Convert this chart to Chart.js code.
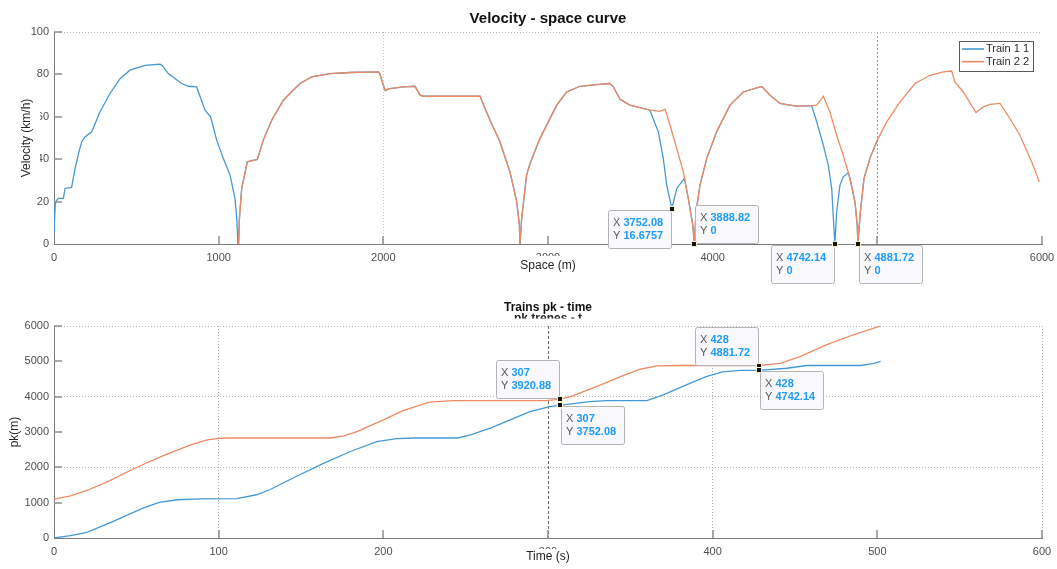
<!DOCTYPE html>
<html>
<head>
<meta charset="utf-8">
<title>Velocity - space curve</title>
<script src="https://cdn.jsdelivr.net/npm/chart.js@4.4.1/dist/chart.umd.min.js"></script>
<style>
  html, body { margin: 0; padding: 0; background: #fff; }
  #wrap { position: relative; width: 1057px; height: 569px; overflow: hidden; }
  canvas { position: absolute; left: 0; }
  #velChart { top: 0; }
  #pkChart { top: 290px; }
</style>
</head>
<body>
<div id="wrap">
  <canvas id="velChart" width="1057" height="290"></canvas>
  <canvas id="pkChart" width="1057" height="279"></canvas>
</div>
<script>
// speed along the line: space (m) / speed (km/h)
const train1Space = [0, 8, 15, 26, 57, 67, 107, 128, 150, 168, 188, 229, 279, 340, 401, 461, 553, 644, 660, 694, 775, 816, 866, 917, 951, 988, 1028, 1069, 1099, 1110, 1117,
  1121, 1126, 1140, 1174, 1235, 1271, 1322, 1393, 1433, 1494, 1565, 1676, 1798, 1970, 1980, 2010, 2040, 2121, 2192, 2223, 2243, 2587, 2648, 2708, 2769, 2810, 2826, 2830,
  2840, 2870, 2891, 2947, 2971, 3053, 3113, 3194, 3296, 3376, 3397, 3437, 3498, 3619,
  3670, 3700, 3721, 3752.08, 3782, 3828, 3852, 3879, 3888.82,
  3899, 3923, 3964, 4024, 4105, 4186, 4287, 4301, 4348, 4409, 4469, 4510, 4601,
  4632, 4672, 4702, 4723, 4733, 4742.14, 4753, 4773, 4793, 4824, 4834, 4864, 4878, 4881.72, 4897, 4919, 4955, 5000];
const train1Speed = [5.8, 19, 20.5, 21.5, 21.5, 26.2, 26.7, 35.6, 43, 48.2, 50.5, 52.9, 62.3, 71, 78, 82, 84.3, 84.8, 84, 80.4, 75.7, 74.4, 74.1, 63.1, 60, 49, 40.4, 32.5, 21.5, 12, 0,
  0, 12, 26.2, 38.8, 39.9, 49, 58.4, 67.8, 71, 75.7, 78.8, 80.4, 80.9, 81.2, 79.9, 72.5, 73.3, 74.1, 74.4, 70.2, 69.7, 69.7, 58.4, 48.2, 34, 20, 9, 0,
  12, 32.5, 38, 49, 52.9, 65.5, 71.7, 74.4, 75.2, 75.7, 74.1, 68.3, 65.5, 63.1,
  52.9, 40.4, 27.8, 16.6757, 26.2, 31, 21.5, 9, 0,
  15.2, 27.8, 40.4, 52.9, 65.5, 71.7, 74.1, 74.1, 70.2, 66.3, 65.5, 65, 65.3,
  57.6, 46.6, 37.2, 26.2, 12.1, 0, 15.2, 27.8, 31.7, 33.6, 30.9, 19.9, 9, 0, 15.2, 30.9, 40.4, 49];

const train2Space = [1121, 1126, 1140, 1174, 1235, 1271, 1322, 1393, 1433, 1494, 1565, 1676, 1798, 1970, 1980, 2010, 2040, 2121, 2192, 2223, 2243, 2587, 2648, 2708, 2769, 2810, 2826, 2830,
  2840, 2870, 2891, 2947, 2971, 3053, 3113, 3194, 3296, 3376, 3397, 3437, 3498, 3619, 3680, 3711, 3741, 3782, 3822, 3852, 3879, 3888.82,
  3899, 3923, 3964, 4024, 4105, 4186, 4287, 4301, 4348, 4409, 4469, 4510, 4601, 4632, 4672, 4712, 4753, 4793, 4834, 4864, 4878, 4881.72,
  4897, 4919, 4955, 5000, 5057, 5138, 5229, 5320, 5401, 5451, 5471, 5522, 5599, 5643, 5684, 5745, 5805, 5866, 5937, 5984];
const train2Speed = [0, 12, 26.2, 38.8, 39.9, 49, 58.4, 67.8, 71, 75.7, 78.8, 80.4, 80.9, 81.2, 79.9, 72.5, 73.3, 74.1, 74.4, 70.2, 69.7, 69.7, 58.4, 48.2, 34, 20, 9, 0,
  12, 32.5, 38, 49, 52.9, 65.5, 71.7, 74.4, 75.2, 75.7, 74.1, 68.3, 65.5, 63.1, 62.6, 63.6, 56, 45, 34, 21.5, 9, 0,
  15.2, 27.8, 40.4, 52.9, 65.5, 71.7, 74.1, 74.1, 70.2, 66.3, 65.5, 65, 65.3, 65.5, 69.7, 62.3, 51.3, 41.9, 30.9, 19.9, 9, 0,
  15.2, 30.9, 40.4, 49, 57.6, 67, 75.7, 79.6, 81.2, 81.6, 76.5, 71.7, 62, 64.7, 65.9, 66.3, 59.2, 51.3, 38.8, 29.3];

// position over time: time (s) / pk (m)
const train1Time = [0, 10, 20, 36, 54, 64, 75, 89, 111, 123, 131, 147, 164, 180, 196, 208, 220, 245, 253, 265, 277, 289, 301, 307, 325, 336, 360, 370, 384, 396, 406, 417, 428, 445, 457, 490, 498, 502];
const train1Pk = [0, 65, 160, 470, 848, 1006, 1082, 1110, 1117, 1224, 1365, 1741, 2119, 2448, 2730, 2815, 2830, 2830, 2919, 3109, 3343, 3578, 3719, 3752.08, 3860, 3888.82, 3888.82, 4050, 4332, 4567, 4700, 4742.14, 4742.14, 4804, 4881.72, 4881.72, 4945, 5002];
const train2Time = [0, 10, 20, 32, 50, 66, 83, 93, 99, 105, 168, 176, 184, 200, 212, 228, 242, 298, 307, 315, 332, 344, 356, 366, 380, 428, 441, 453, 469, 485, 502];
const train2Pk = [1100, 1195, 1345, 1582, 1996, 2326, 2637, 2778, 2815, 2830, 2830, 2891, 3013, 3343, 3606, 3843, 3888.82, 3888.82, 3920.88, 4021, 4332, 4567, 4776, 4869, 4881.72, 4881.72, 4945, 5132, 5463, 5745, 6000];

const seriesNames = ['Train 1 1', 'Train 2 2'];
const seriesColors = ['#4598d5', '#ee8a63'];

const velTicksX = [0, 1000, 2000, 3000, 4000, 5000, 6000];
const velTicksY = [0, 20, 40, 60, 80, 100];
const pkTicksX = [0, 100, 200, 300, 400, 500, 600];
const pkTicksY = [0, 1000, 2000, 3000, 4000, 5000, 6000];

// only some grid lines are switched on
const velGridX = [2000, 5000];
const velGridY = [100];
const pkGridX = [100, 300, 400, 600];
const pkGridY = [2000, 4000, 6000];

// data tips: [series, x value, corner of the box sitting on the point]
const velTips = [[0, 3752.08, 'tr'], [1, 3888.82, 'bl'], [0, 4742.14, 'tr'], [1, 4881.72, 'tl']];
const pkTips = [[1, 307, 'br'], [0, 307, 'tl'], [1, 428, 'br'], [0, 428, 'tl']];

const FONT = "'Liberation Sans', Arial, Helvetica, sans-serif";
Chart.defaults.font.family = FONT;

function toPoints(xs, ys) {
  return xs.map((x, i) => ({ x: x, y: ys[i] }));
}

function fmt(v) {
  return String(Number(v.toPrecision(6)));
}

function fixedTicks(list) {
  return s => { s.ticks = list.map(v => ({ value: v })); };
}

// MATLAB-ish decorations: inward ticks, titles, axis labels
const axesDecor = {
  id: 'axesDecor',
  afterDraw(chart, args, o) {
    const ctx = chart.ctx;
    const a = chart.chartArea;
    const xs = chart.scales.x, ys = chart.scales.y;
    ctx.save();

    ctx.strokeStyle = '#8f8f8f';
    ctx.lineWidth = 1.5;
    ctx.beginPath();
    xs.ticks.forEach(t => {
      if (t.value === xs.min) return;
      const p = Math.round(xs.getPixelForValue(t.value));
      ctx.moveTo(p, a.bottom);
      ctx.lineTo(p, a.bottom - 8);
    });
    ys.ticks.forEach(t => {
      if (t.value === ys.min) return;
      const p = Math.round(ys.getPixelForValue(t.value));
      ctx.moveTo(a.left, p);
      ctx.lineTo(a.left + 8, p);
    });
    ctx.stroke();

    const cx = (a.left + a.right) / 2;

    // leftover text under the title
    if (o.ghost) {
      ctx.save();
      ctx.beginPath();
      ctx.rect(0, 0, chart.width, o.ghost.clip);
      ctx.clip();
      ctx.fillStyle = '#262626';
      ctx.font = 'bold 12px ' + FONT;
      ctx.textAlign = 'center';
      ctx.textBaseline = 'alphabetic';
      ctx.fillText(o.ghost.text, cx, o.ghost.y);
      ctx.restore();
    }

    ctx.fillStyle = '#111';
    ctx.font = 'bold ' + o.titleSize + 'px ' + FONT;
    ctx.textAlign = 'center';
    ctx.textBaseline = 'middle';
    ctx.fillText(o.title, cx, o.titleY);

    // x label sits on a white patch
    ctx.font = '12px ' + FONT;
    const w = ctx.measureText(o.xLabel).width;
    ctx.fillStyle = '#fff';
    ctx.fillRect(cx - w / 2 - 4, o.xMaskTop, w + 8, o.xLabelY + 9 - o.xMaskTop);
    ctx.fillStyle = '#262626';
    ctx.fillText(o.xLabel, cx, o.xLabelY);

    const cy = (a.top + a.bottom) / 2;
    if (o.yMask) {
      ctx.fillStyle = '#fff';
      ctx.fillRect(o.yMask[0], cy - o.yMask[2] / 2, o.yMask[1] - o.yMask[0], o.yMask[2]);
    }
    ctx.translate(o.yLabelX, cy);
    ctx.rotate(-Math.PI / 2);
    ctx.fillStyle = '#262626';
    ctx.fillText(o.yLabel, 0, 0);
    ctx.restore();
  }
};

// boxed legend in the upper right corner
const boxLegend = {
  id: 'boxLegend',
  afterDraw(chart, args, o) {
    if (!o.show) return;
    const ctx = chart.ctx;
    const a = chart.chartArea;
    const sets = chart.data.datasets;
    ctx.save();
    ctx.font = '11px ' + FONT;
    const textW = Math.max(...sets.map(d => ctx.measureText(d.label).width));
    const w = 3 + 22 + 2 + textW + 4;
    const h = 30;
    const x = a.right - 9 - w, y = a.top + 9;
    ctx.fillStyle = '#fff';
    ctx.fillRect(x, y, w, h);
    ctx.strokeStyle = '#5a5a5a';
    ctx.lineWidth = 1;
    ctx.strokeRect(Math.round(x) + 0.5, Math.round(y) + 0.5, Math.round(w), h);
    sets.forEach((d, i) => {
      const ly = y + 8 + i * 12.7;
      ctx.strokeStyle = d.borderColor;
      ctx.lineWidth = 1.6;
      ctx.beginPath();
      ctx.moveTo(x + 3, ly);
      ctx.lineTo(x + 25, ly);
      ctx.stroke();
      ctx.fillStyle = '#2a2a2a';
      ctx.textBaseline = 'middle';
      ctx.fillText(d.label, x + 27, ly);
    });
    ctx.restore();
  }
};

// data tips with X / Y readouts
const dataTips = {
  id: 'dataTips',
  afterDraw(chart, args, o) {
    const ctx = chart.ctx;
    const xs = chart.scales.x, ys = chart.scales.y;
    ctx.save();
    o.tips.forEach(tip => {
      const pt = chart.data.datasets[tip[0]].data.find(p => p.x === tip[1]);
      const px = Math.round(xs.getPixelForValue(pt.x));
      const py = Math.round(ys.getPixelForValue(pt.y));
      const rows = [['X', fmt(pt.x)], ['Y', fmt(pt.y)]];
      ctx.font = '11px ' + FONT;
      const keyW = ctx.measureText('X ').width;
      ctx.font = 'bold 11px ' + FONT;
      const valW = Math.max(...rows.map(r => ctx.measureText(r[1]).width));
      const w = Math.round(5 + keyW + valW + 8);
      const h = 38;
      const bx = tip[2][1] === 'l' ? px + 1 : px - 1 - w;
      const by = tip[2][0] === 't' ? py + 1 : py - 1 - h;

      ctx.beginPath();
      ctx.roundRect(bx + 0.5, by + 0.5, w, h, 2);
      ctx.fillStyle = '#f9f9fd';
      ctx.fill();
      ctx.strokeStyle = '#b4b4b4';
      ctx.lineWidth = 1;
      ctx.stroke();

      ctx.textBaseline = 'middle';
      ctx.textAlign = 'left';
      rows.forEach((r, i) => {
        const ty = by + 12.5 + i * 13.4;
        ctx.font = '11px ' + FONT;
        ctx.fillStyle = '#5a5a5a';
        ctx.fillText(r[0], bx + 5, ty);
        ctx.font = 'bold 11px ' + FONT;
        ctx.fillStyle = '#1d9bf5';
        ctx.fillText(r[1], bx + 5 + keyW, ty);
      });

      ctx.fillStyle = '#f2f0c8';
      ctx.fillRect(px - 3, py - 3, 6, 6);
      ctx.fillStyle = '#111';
      ctx.fillRect(px - 2, py - 2, 4, 4);
    });
    ctx.restore();
  }
};

function lineSet(i, points) {
  return {
    label: seriesNames[i],
    data: points,
    borderColor: seriesColors[i],
    borderWidth: 1.3,
    pointRadius: 0,
    tension: 0,
    fill: false,
    order: 1 - i
  };
}

const plainTick = v => String(v);

function axisX(min, max, ticks, grid, xHeight, gridStyle) {
  return {
    type: 'linear', min: min, max: max,
    afterBuildTicks: fixedTicks(ticks),
    afterFit: s => { s.height = xHeight; s.paddingLeft = 0; s.paddingRight = 0; },
    ticks: { color: '#4f4f4f', font: { size: 11 }, padding: 7, maxRotation: 0, autoSkip: false, callback: plainTick },
    grid: {
      drawTicks: false,
      color: c => (c.tick && grid.includes(c.tick.value)) ? gridStyle(c.tick.value).color : 'transparent'
    },
    border: {
      color: '#7b7b7b', width: 1,
      dash: c => c.tick ? gridStyle(c.tick.value).dash : []
    }
  };
}

function axisY(min, max, ticks, grid) {
  return {
    type: 'linear', min: min, max: max,
    afterBuildTicks: fixedTicks(ticks),
    afterFit: s => { s.width = 54; s.paddingTop = 0; s.paddingBottom = 0; },
    ticks: { color: '#4f4f4f', font: { size: 11 }, padding: 5, callback: plainTick },
    grid: {
      drawTicks: false,
      color: c => (c.tick && grid.includes(c.tick.value)) ? '#b3b3b3' : 'transparent'
    },
    border: { color: '#7b7b7b', width: 1, dash: [1, 2] }
  };
}

new Chart(document.getElementById('velChart'), {
  type: 'line',
  data: {
    datasets: [
      lineSet(0, toPoints(train1Space, train1Speed)),
      lineSet(1, toPoints(train2Space, train2Speed))
    ]
  },
  options: {
    responsive: false,
    devicePixelRatio: 1,
    animation: false,
    events: [],
    layout: { padding: { top: 32, right: 15, left: 0, bottom: 0 } },
    scales: {
      x: axisX(0, 6000, velTicksX, velGridX, 46, v => v === 5000 ? { color: '#9a9a9a', dash: [2, 2] } : { color: '#c4c4c4', dash: [1, 2] }),
      y: axisY(0, 100, velTicksY, velGridY)
    },
    plugins: {
      legend: { display: false },
      tooltip: { enabled: false },
      axesDecor: {
        title: 'Velocity - space curve', titleSize: 15, titleY: 19,
        xLabel: 'Space (m)', xLabelY: 266, xMaskTop: 256,
        yLabel: 'Velocity (km/h)', yLabelX: 27, yMask: [19, 40, 84]
      },
      boxLegend: { show: true },
      dataTips: { tips: velTips }
    }
  },
  plugins: [axesDecor, boxLegend, dataTips]
});

new Chart(document.getElementById('pkChart'), {
  type: 'line',
  data: {
    datasets: [
      lineSet(0, toPoints(train1Time, train1Pk)),
      lineSet(1, toPoints(train2Time, train2Pk))
    ]
  },
  options: {
    responsive: false,
    devicePixelRatio: 1,
    animation: false,
    events: [],
    layout: { padding: { top: 36, right: 15, left: 0, bottom: 0 } },
    scales: {
      x: axisX(0, 600, pkTicksX, pkGridX, 31, v => v === 300 ? { color: '#6e6e6e', dash: [3, 2] } : { color: '#b3b3b3', dash: [1, 2] }),
      y: axisY(0, 6000, pkTicksY, pkGridY)
    },
    plugins: {
      legend: { display: false },
      tooltip: { enabled: false },
      axesDecor: {
        title: 'Trains pk - time', titleSize: 12, titleY: 18,
        ghost: { text: 'pk trenes - t', y: 32, clip: 28.5 },
        xLabel: 'Time (s)', xLabelY: 267, xMaskTop: 259,
        yLabel: 'pk(m)', yLabelX: 15
      },
      boxLegend: { show: false },
      dataTips: { tips: pkTips }
    }
  },
  plugins: [axesDecor, boxLegend, dataTips]
});
</script>
</body>
</html>
